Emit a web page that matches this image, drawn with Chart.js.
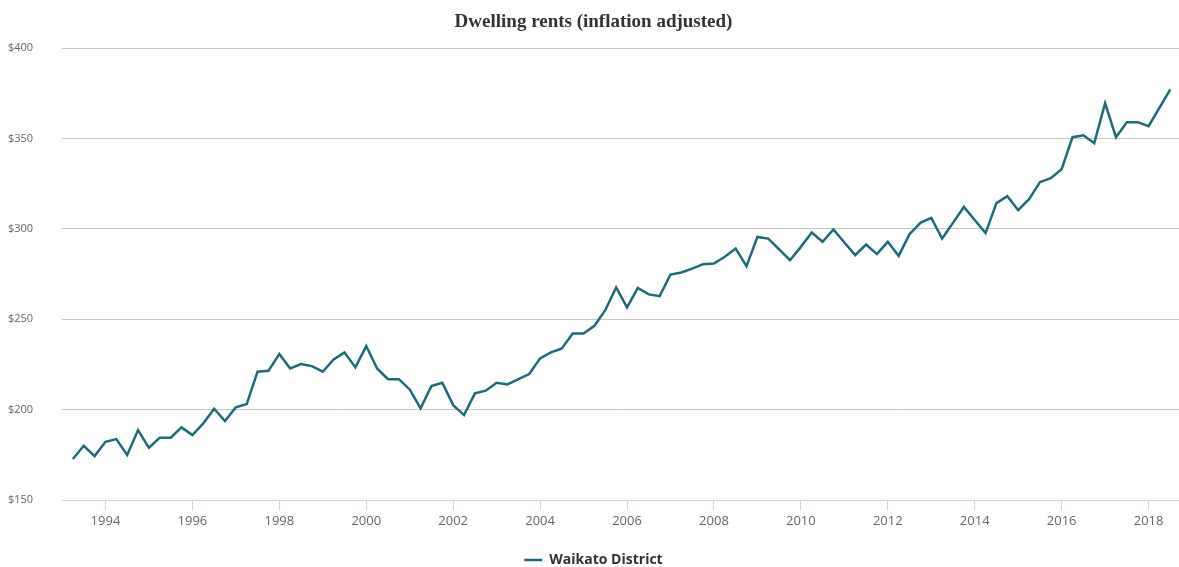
<!DOCTYPE html>
<html>
  <head>
    <title>Dwelling rents (inflation adjusted)</title>
    <meta charset="UTF-8" />
    <script src="https://cdn.jsdelivr.net/npm/chart.js@4.4.1/dist/chart.umd.min.js"></script>
    <style>
      body { margin: 0; background: #fff; }
      #wrap { position: relative; width: 1179px; height: 567px; }
    </style>
  </head>
  <body>
    <div id="wrap"><canvas id="rentChart"></canvas></div>
    <script>
      // quarter ending month for each observation (Mar 2018 is missing)
      const quarterEnds = [
        "1993-03", "1993-06", "1993-09", "1993-12",
        "1994-03", "1994-06", "1994-09", "1994-12",
        "1995-03", "1995-06", "1995-09", "1995-12",
        "1996-03", "1996-06", "1996-09", "1996-12",
        "1997-03", "1997-06", "1997-09", "1997-12",
        "1998-03", "1998-06", "1998-09", "1998-12",
        "1999-03", "1999-06", "1999-09", "1999-12",
        "2000-03", "2000-06", "2000-09", "2000-12",
        "2001-03", "2001-06", "2001-09", "2001-12",
        "2002-03", "2002-06", "2002-09", "2002-12",
        "2003-03", "2003-06", "2003-09", "2003-12",
        "2004-03", "2004-06", "2004-09", "2004-12",
        "2005-03", "2005-06", "2005-09", "2005-12",
        "2006-03", "2006-06", "2006-09", "2006-12",
        "2007-03", "2007-06", "2007-09", "2007-12",
        "2008-03", "2008-06", "2008-09", "2008-12",
        "2009-03", "2009-06", "2009-09", "2009-12",
        "2010-03", "2010-06", "2010-09", "2010-12",
        "2011-03", "2011-06", "2011-09", "2011-12",
        "2012-03", "2012-06", "2012-09", "2012-12",
        "2013-03", "2013-06", "2013-09", "2013-12",
        "2014-03", "2014-06", "2014-09", "2014-12",
        "2015-03", "2015-06", "2015-09", "2015-12",
        "2016-03", "2016-06", "2016-09", "2016-12",
        "2017-03", "2017-06", "2017-09", "2017-12",
        "2018-06"
      ];

      // mean weekly rent, Waikato District ($, inflation adjusted)
      const rents = [
        172.7, 180.0, 174.3, 182.2,
        183.7, 174.9, 188.7, 178.9,
        184.5, 184.5, 190.2, 185.9,
        192.4, 200.5, 193.7, 201.3,
        203.1, 221.0, 221.5, 230.8,
        222.8, 225.2, 224.1, 221.0,
        227.8, 231.7, 223.4, 235.2,
        222.8, 216.9, 216.9, 211.2,
        200.7, 213.1, 214.9, 202.5,
        197.0, 209.0, 210.5, 214.9,
        214.0, 216.9, 219.7, 228.4,
        231.7, 233.9, 242.2, 242.2,
        246.4, 255.1, 267.6, 256.6,
        267.4, 263.8, 262.8, 274.8,
        275.9, 278.1, 280.5, 280.9,
        284.6, 289.2, 279.4, 295.6,
        294.7, 288.7, 282.7, 290.1,
        298.0, 292.9, 299.7, 292.5,
        285.5, 291.4, 286.1, 292.9,
        285.1, 297.1, 303.4, 306.1,
        294.7, 303.4, 312.2, 305.0,
        297.7, 314.3, 318.1, 310.4,
        316.5, 325.9, 328.1, 333.1,
        350.8, 351.9, 347.5, 369.6,
        350.8, 359.1, 359.1, 356.9,
        377.3
      ];

      const yearTicks = [1994, 1996, 1998, 2000, 2002, 2004, 2006, 2008, 2010, 2012, 2014, 2016, 2018];
      const rentTicks = [150, 200, 250, 300, 350, 400];

      function toYear(q) {
        const [y, m] = q.split("-").map(Number);
        return y + m / 12;
      }

      const points = quarterEnds.map((q, i) => ({ x: toYear(q), y: rents[i] }));

      const config = {
        type: "line",
        data: {
          datasets: [
            {
              label: "Waikato District",
              data: points,
              borderColor: "#1e6b77",
              backgroundColor: "#1e6b77",
              borderWidth: 2.5,
              pointRadius: 0,
              tension: 0
            }
          ]
        },
        options: {
          animation: false,
          responsive: true,
          maintainAspectRatio: false,
          // negative bottom padding pulls the legend down into its trailing gap
          layout: { padding: { left: 8, right: 0, top: 0, bottom: -10 } },
          plugins: {
            title: {
              display: true,
              text: "Dwelling rents (inflation adjusted)",
              color: "#333",
              font: { family: "Liberation Serif", size: 19, weight: "bold" },
              padding: { top: 11, bottom: 14.5 }
            },
            legend: {
              position: "bottom",
              labels: {
                usePointStyle: true,
                pointStyle: "line",
                pointStyleWidth: 18,
                color: "#333",
                font: { family: "Open Sans", size: 14, weight: "bold" },
                padding: 1
              }
            },
            tooltip: { enabled: false }
          },
          scales: {
            x: {
              type: "linear",
              min: 1993,
              max: 2018.7,
              afterBuildTicks: (s) => { s.ticks = yearTicks.map((v) => ({ value: v })); },
              afterFit: (s) => { s.height = 52; },
              ticks: {
                color: "#666",
                font: { family: "Open Sans", size: 13 },
                padding: 3,
                maxRotation: 0,
                autoSkip: false,
                callback: (v) => String(v)
              },
              grid: { drawOnChartArea: false, tickLength: 10, color: "#ccd6eb" },
              border: { color: "#ccd6eb", width: 1 }
            },
            y: {
              min: 150,
              max: 400,
              afterBuildTicks: (s) => { s.ticks = rentTicks.map((v) => ({ value: v })); },
              afterFit: (s) => { s.width = 54; },
              ticks: {
                color: "#666",
                font: { family: "Open Sans", size: 11 },
                crossAlign: "far",
                padding: 0,
                callback: (v) => "$" + v
              },
              grid: { color: "#c6c6c6", drawTicks: false },
              border: { display: false }
            }
          }
        }
      };

      new Chart(document.getElementById("rentChart"), config);
    </script>
  </body>
</html>
